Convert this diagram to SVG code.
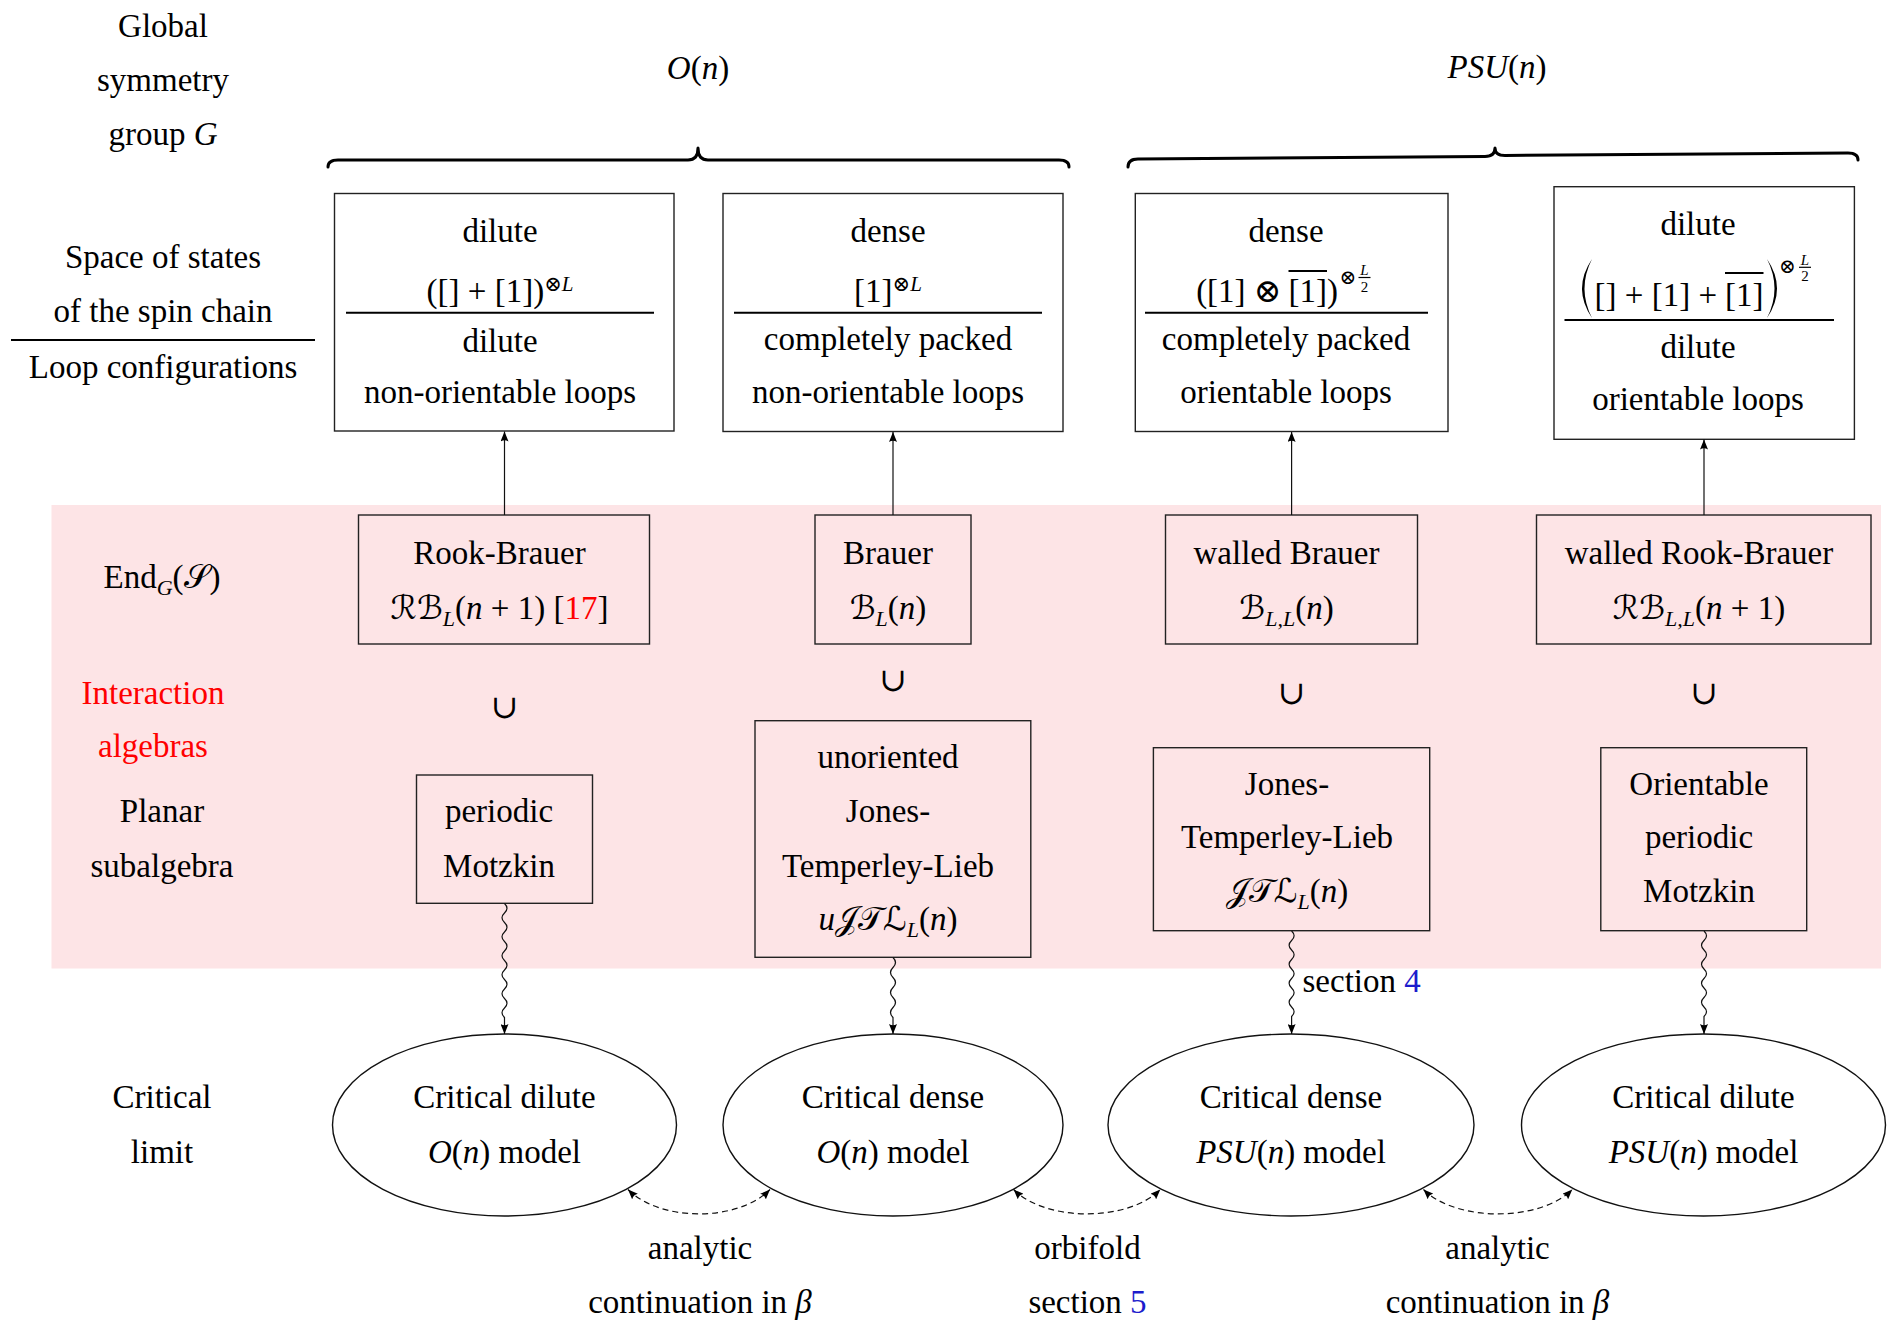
<svg xmlns="http://www.w3.org/2000/svg" width="1887" height="1326" viewBox="0 0 1887 1326">
<defs>
<style>
text{font-family:"Liberation Serif","DejaVu Serif","DejaVu Sans",serif;font-size:33px;fill:#000}
.c{text-anchor:middle}
.e{text-anchor:end}
.i{font-style:italic}
.sup{font-size:21px}
.sub{font-size:22px}
.fr{font-size:15px}
.op{font-family:"DejaVu Sans","DejaVu Serif",sans-serif;font-weight:200}
.scr{font-family:"DejaVu Sans","DejaVu Serif","Noto Sans",serif}
.red{fill:#f00}
.blue{fill:#1c1ccc}
.box{fill:none;stroke:#222;stroke-width:1.4}
.rule{stroke:#000;stroke-width:2}
.ol{stroke:#000;stroke-width:2}
.ell{fill:none;stroke:#111;stroke-width:1.4}
.brace{fill:none;stroke:#000;stroke-width:3;stroke-linejoin:round;stroke-linecap:round}
.arr{fill:none;stroke:#111;stroke-width:1.2;marker-end:url(#ah)}
.dash{fill:none;stroke:#111;stroke-width:1.2;stroke-dasharray:6 4;marker-start:url(#ah);marker-end:url(#ah)}
</style>
<marker id="ah" markerUnits="userSpaceOnUse" markerWidth="11" markerHeight="8" refX="10" refY="4" orient="auto-start-reverse" viewBox="0 0 11 8"><path d="M0,0 L10,4 L0,8 Q2.5,4 0,0Z" fill="#000"/></marker>
</defs>

<rect id="band" x="51.5" y="505" width="1829.5" height="463.5" fill="#fde4e6"/>

<g id="labels-left">
<text class="c" x="163" y="37">Global</text>
<text class="c" x="163" y="91">symmetry</text>
<text class="c" x="163" y="145">group <tspan class="i">G</tspan></text>
<text class="c" x="163" y="268">Space of states</text>
<text class="c" x="163" y="322">of the spin chain</text>
<line class="rule" x1="11" y1="340" x2="315" y2="340"/>
<text class="c" x="163" y="378">Loop configurations</text>
<text class="c" x="162" y="588">End<tspan class="sub i" dy="7">G</tspan><tspan dy="-7">(</tspan><tspan class="scr">𝒮</tspan>)</text>
<text class="c red" x="153" y="704">Interaction</text>
<text class="c red" x="153" y="757">algebras</text>
<text class="c" x="162" y="822">Planar</text>
<text class="c" x="162" y="877">subalgebra</text>
<text class="c" x="162" y="1108">Critical</text>
<text class="c" x="162" y="1163">limit</text>
</g>

<g id="group-On">
<text class="c" x="698" y="79"><tspan class="i">O</tspan>(<tspan class="i">n</tspan>)</text>
<path class="brace" d="M328,167 Q328,160 338,160 L688,160 Q698,160 698,148 Q698,160 708,160 L1059,160 Q1069,160 1069,167"/>
</g>
<g id="group-PSUn">
<text class="c" x="1497" y="78"><tspan class="i">PSU</tspan>(<tspan class="i">n</tspan>)</text>
<path class="brace" d="M1128,167 Q1128,159 1138,159 L1485,156.5 Q1495,156.5 1495,148 Q1495,155.5 1505,155.5 L1848,153 Q1858,153 1858,160"/>
</g>

<g id="space-dilute-nonorientable">
<rect class="box" x="334.5" y="193.5" width="339.5" height="237.5"/>
<text class="c" x="500" y="242">dilute</text>
<text class="c" x="500" y="302">([] + [1])<tspan class="sup op" dy="-11">⊗</tspan><tspan class="sup i">L</tspan></text>
<line class="rule" x1="346" y1="312.7" x2="654" y2="312.7"/>
<text class="c" x="500" y="352">dilute</text>
<text class="c" x="500" y="403">non-orientable loops</text>
</g>

<g id="space-dense-nonorientable">
<rect class="box" x="723" y="193.5" width="340" height="238"/>
<text class="c" x="888" y="242">dense</text>
<text class="c" x="888" y="302">[1]<tspan class="sup op" dy="-11">⊗</tspan><tspan class="sup i">L</tspan></text>
<line class="rule" x1="734" y1="312.7" x2="1042" y2="312.7"/>
<text class="c" x="888" y="350">completely packed</text>
<text class="c" x="888" y="403">non-orientable loops</text>
</g>

<g id="space-dense-orientable">
<rect class="box" x="1135.3" y="193.5" width="312.7" height="238"/>
<text class="c" x="1286" y="242">dense</text>
<text class="e" x="1281.5" y="302">([1] <tspan class="op">⊗</tspan></text>
<text x="1288.5" y="302">[1])</text>
<line class="ol" x1="1288.5" y1="271" x2="1327" y2="271"/>
<text class="op" x="1339.5" y="284" style="font-size:20px">⊗</text>
<text class="c fr i" x="1364.5" y="275">L</text>
<line x1="1358.5" y1="277.5" x2="1370.5" y2="277.5" stroke="#000" stroke-width="1.2"/>
<text class="c fr" x="1364.5" y="292">2</text>
<line class="rule" x1="1145" y1="312.7" x2="1428" y2="312.7"/>
<text class="c" x="1286" y="350">completely packed</text>
<text class="c" x="1286" y="403">orientable loops</text>
</g>

<g id="space-dilute-orientable">
<rect class="box" x="1554" y="186.7" width="300.4" height="252.6"/>
<text class="c" x="1698" y="235">dilute</text>
<path d="M1592,259 Q1572,288.5 1592,318 Q1577,288.5 1592,259Z" fill="#000"/>
<text class="e" x="1717" y="306">[] + [1] +</text>
<text x="1725" y="306">[1]</text>
<line class="ol" x1="1725" y1="273" x2="1763.5" y2="273"/>
<path d="M1767,259 Q1787,288.5 1767,318 Q1782,288.5 1767,259Z" fill="#000"/>
<text class="op" x="1779" y="273" style="font-size:20px">⊗</text>
<text class="c fr i" x="1805" y="264.5">L</text>
<line x1="1799" y1="267.3" x2="1811" y2="267.3" stroke="#000" stroke-width="1.2"/>
<text class="c fr" x="1805" y="281">2</text>
<line class="rule" x1="1564.5" y1="320" x2="1834" y2="320"/>
<text class="c" x="1698" y="358">dilute</text>
<text class="c" x="1698" y="410">orientable loops</text>
</g>

<g id="alg-rook-brauer">
<rect class="box" x="358.5" y="515" width="291" height="129"/>
<text class="c" x="499.5" y="564">Rook-Brauer</text>
<text class="c" x="499.5" y="619"><tspan class="scr">ℛℬ</tspan><tspan class="sub i" dy="7">L</tspan><tspan dy="-7">(</tspan><tspan class="i">n</tspan> + 1) [<tspan class="red">17</tspan>]</text>
</g>
<g id="alg-brauer">
<rect class="box" x="815" y="515" width="156" height="129"/>
<text class="c" x="888" y="564">Brauer</text>
<text class="c" x="888" y="619"><tspan class="scr">ℬ</tspan><tspan class="sub i" dy="7">L</tspan><tspan dy="-7">(</tspan><tspan class="i">n</tspan>)</text>
</g>
<g id="alg-walled-brauer">
<rect class="box" x="1165.5" y="515" width="252" height="129"/>
<text class="c" x="1286.5" y="564">walled Brauer</text>
<text class="c" x="1286.5" y="619"><tspan class="scr">ℬ</tspan><tspan class="sub i" dy="7">L,L</tspan><tspan dy="-7">(</tspan><tspan class="i">n</tspan>)</text>
</g>
<g id="alg-walled-rook-brauer">
<rect class="box" x="1536.5" y="515" width="334.5" height="129"/>
<text class="c" x="1699" y="564">walled Rook-Brauer</text>
<text class="c" x="1699" y="619"><tspan class="scr">ℛℬ</tspan><tspan class="sub i" dy="7">L,L</tspan><tspan dy="-7">(</tspan><tspan class="i">n</tspan> + 1)</text>
</g>

<g id="subset-symbols">
<text class="c op" x="504.5" y="718">∪</text>
<text class="c op" x="893" y="691">∪</text>
<text class="c op" x="1291.6" y="704">∪</text>
<text class="c op" x="1704" y="704">∪</text>
</g>

<g id="planar-periodic-motzkin">
<rect class="box" x="416.5" y="775" width="176" height="128.3"/>
<text class="c" x="499" y="822">periodic</text>
<text class="c" x="499" y="877">Motzkin</text>
</g>
<g id="planar-ujtl">
<rect class="box" x="755" y="720.7" width="275.8" height="236.6"/>
<text class="c" x="888" y="768">unoriented</text>
<text class="c" x="888" y="822">Jones-</text>
<text class="c" x="888" y="877">Temperley-Lieb</text>
<text class="c" x="888" y="930"><tspan class="i">u</tspan><tspan class="scr">𝒥𝒯ℒ</tspan><tspan class="sub i" dy="7">L</tspan><tspan dy="-7">(</tspan><tspan class="i">n</tspan>)</text>
</g>
<g id="planar-jtl">
<rect class="box" x="1153.4" y="747.7" width="276.3" height="183"/>
<text class="c" x="1287" y="795">Jones-</text>
<text class="c" x="1287" y="848">Temperley-Lieb</text>
<text class="c" x="1287" y="902"><tspan class="scr">𝒥𝒯ℒ</tspan><tspan class="sub i" dy="7">L</tspan><tspan dy="-7">(</tspan><tspan class="i">n</tspan>)</text>
</g>
<g id="planar-orientable-periodic-motzkin">
<rect class="box" x="1600.8" y="747.7" width="205.9" height="183"/>
<text class="c" x="1699" y="795">Orientable</text>
<text class="c" x="1699" y="848">periodic</text>
<text class="c" x="1699" y="902">Motzkin</text>
</g>

<g id="model-dilute-On">
<ellipse class="ell" cx="504.5" cy="1125" rx="172" ry="91"/>
<text class="c" x="504.5" y="1108">Critical dilute</text>
<text class="c" x="504.5" y="1163"><tspan class="i">O</tspan>(<tspan class="i">n</tspan>) model</text>
</g>
<g id="model-dense-On">
<ellipse class="ell" cx="893" cy="1125" rx="170" ry="91"/>
<text class="c" x="893" y="1108">Critical dense</text>
<text class="c" x="893" y="1163"><tspan class="i">O</tspan>(<tspan class="i">n</tspan>) model</text>
</g>
<g id="model-dense-PSUn">
<ellipse class="ell" cx="1291" cy="1125" rx="183" ry="91"/>
<text class="c" x="1291" y="1108">Critical dense</text>
<text class="c" x="1291" y="1163"><tspan class="i">PSU</tspan>(<tspan class="i">n</tspan>) model</text>
</g>
<g id="model-dilute-PSUn">
<ellipse class="ell" cx="1703.5" cy="1125" rx="182" ry="91"/>
<text class="c" x="1703.5" y="1108">Critical dilute</text>
<text class="c" x="1703.5" y="1163"><tspan class="i">PSU</tspan>(<tspan class="i">n</tspan>) model</text>
</g>

<g id="connectors">
<path class="arr" d="M504.5,515 L504.5,431.5"/>
<path class="arr" d="M893,515 L893,432"/>
<path class="arr" d="M1291.6,515 L1291.6,432"/>
<path class="arr" d="M1704,515 L1704,439.5"/>
<path class="arr" d="M504.5,903.5 q5,4.75 0,9.5 t0,9.5 t0,9.5 t0,9.5 t0,9.5 t0,9.5 t0,9.5 t0,9.5 t0,9.5 t0,9.5 t0,9.5 t0,9.5 L504.5,1034"/>
<path class="arr" d="M893,957.5 q5,5 0,10 t0,10 t0,10 t0,10 t0,10 t0,10 L893,1034"/>
<path class="arr" d="M1291.6,931 q5,4.75 0,9.5 t0,9.5 t0,9.5 t0,9.5 t0,9.5 t0,9.5 t0,9.5 t0,9.5 t0,9.5 L1291.6,1034"/>
<path class="arr" d="M1704,931 q5,4.75 0,9.5 t0,9.5 t0,9.5 t0,9.5 t0,9.5 t0,9.5 t0,9.5 t0,9.5 t0,9.5 L1704,1034"/>
<text x="1302.5" y="992">section <tspan class="blue">4</tspan></text>
<path class="dash" d="M628,1189.5 C660,1222 738,1222 770,1189.5"/>
<path class="dash" d="M1013.6,1189.5 C1046,1222 1128,1222 1160.3,1189.5"/>
<path class="dash" d="M1423.5,1189.5 C1456,1222 1540,1222 1572.3,1189.5"/>
<text class="c" x="700" y="1259">analytic</text>
<text class="c" x="700" y="1313">continuation in <tspan class="i">β</tspan></text>
<text class="c" x="1087.5" y="1259">orbifold</text>
<text class="c" x="1087.5" y="1313">section <tspan class="blue">5</tspan></text>
<text class="c" x="1497.5" y="1259">analytic</text>
<text class="c" x="1497.5" y="1313">continuation in <tspan class="i">β</tspan></text>
</g>
</svg>
